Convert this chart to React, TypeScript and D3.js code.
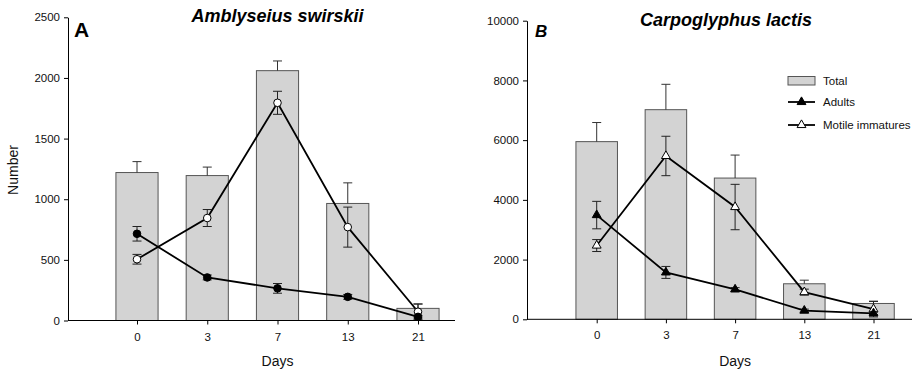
import React, { useEffect, useRef } from "react";
import * as d3 from "d3";

const days = ["0", "3", "7", "13", "21"];

// Panel A: Amblyseius swirskii
const aTotal = [1220, 1195, 2060, 965, 100];
const aTotalErr = [90, 70, 80, 170, 35];
const aImm = [505, 845, 1795, 770, 72];
const aImmErr = [40, 70, 95, 165, 65];
const aAdult = [715, 355, 265, 195, 30];
const aAdultErr = [60, 20, 40, 20, 10];
const aTicks = [0, 500, 1000, 1500, 2000, 2500];

// Panel B: Carpoglyphus lactis
const bTotal = [5950, 7020, 4730, 1190, 530];
const bTotalErr = [640, 850, 770, 120, 75];
const bImm = [2470, 5470, 3760, 910, 340];
const bImmErr = [200, 660, 760, 100, 260];
const bAdult = [3490, 1570, 1000, 290, 200];
const bAdultErr = [460, 200, 60, 50, 40];
const bTicks = [0, 2000, 4000, 6000, 8000, 10000];

const legendLabels = ["Total", "Adults", "Motile immatures"];

const FONT = "Liberation Sans, Arial, sans-serif";

type Panel = {
  x0: number; x4: number; axL: number; axR: number;
  yTop: number; yBot: number; yMax: number; ticks: number[];
  total: number[]; totalErr: number[]; imm: number[]; immErr: number[];
  adult: number[]; adultErr: number[]; marker: "circle" | "triangle";
};

export default function App() {
  const ref = useRef<SVGSVGElement>(null);
  useEffect(() => {
    const svg = d3.select(ref.current);
    svg.selectAll("*").remove();

    const draw = (p: Panel) => {
      const g = svg.append("g");
      const x = d3.scaleLinear().domain([0, 4]).range([p.x0, p.x4]);
      const step = (p.x4 - p.x0) / 4;
      const bw = step * 0.6;
      const y = d3.scaleLinear().domain([0, p.yMax]).range([p.yBot, p.yTop]);
      const idx = d3.range(days.length);

      // bars
      g.selectAll("rect.bar").data(idx).join("rect")
        .attr("x", (i) => x(i) - bw / 2).attr("y", (i) => y(p.total[i]))
        .attr("width", bw).attr("height", (i) => y(0) - y(p.total[i]))
        .attr("fill", "#d3d3d3").attr("stroke", "#555").attr("stroke-width", 1);
      // bar error (up only)
      idx.forEach((i) => {
        const cx = x(i);
        g.append("line").attr("x1", cx).attr("x2", cx)
          .attr("y1", y(p.total[i])).attr("y2", y(p.total[i] + p.totalErr[i]))
          .attr("stroke", "#333").attr("stroke-width", 1);
        g.append("line").attr("x1", cx - 4.5).attr("x2", cx + 4.5)
          .attr("y1", y(p.total[i] + p.totalErr[i])).attr("y2", y(p.total[i] + p.totalErr[i]))
          .attr("stroke", "#333").attr("stroke-width", 1);
      });

      const line = d3.line<number>().x((d, i) => x(i)).y((d) => y(d));
      const series = [
        { v: p.imm, e: p.immErr, fill: "#fff" },
        { v: p.adult, e: p.adultErr, fill: "#000" },
      ];
      series.forEach((s) => {
        idx.forEach((i) => {
          const cx = x(i);
          const lo = y(Math.max(0, s.v[i] - s.e[i]));
          const hi = y(s.v[i] + s.e[i]);
          g.append("line").attr("x1", cx).attr("x2", cx).attr("y1", lo).attr("y2", hi)
            .attr("stroke", "#222").attr("stroke-width", 1);
          [lo, hi].forEach((yy) =>
            g.append("line").attr("x1", cx - 4.5).attr("x2", cx + 4.5).attr("y1", yy).attr("y2", yy)
              .attr("stroke", "#222").attr("stroke-width", 1));
        });
      });
      series.forEach((s) => {
        g.append("path").datum(s.v).attr("d", line).attr("fill", "none")
          .attr("stroke", "#000").attr("stroke-width", 1.8);
      });
      series.forEach((s) => {
        if (p.marker === "circle") {
          g.selectAll(null).data(idx).join("circle")
            .attr("cx", (i) => x(i)).attr("cy", (i) => y(s.v[i])).attr("r", 3.8)
            .attr("fill", s.fill).attr("stroke", "#000").attr("stroke-width", 1);
        } else {
          const sym = d3.symbol().type(d3.symbolTriangle).size(34);
          g.selectAll(null).data(idx).join("path")
            .attr("d", sym() as string)
            .attr("transform", (i) => `translate(${x(i)},${y(s.v[i])})`)
            .attr("fill", s.fill).attr("stroke", "#000").attr("stroke-width", 1);
        }
      });

      // y axis
      const ya = d3.axisLeft(y).tickValues(p.ticks).tickFormat(d3.format("d"))
        .tickSize(4).tickSizeOuter(0).tickPadding(4);
      const yg = g.append("g").attr("transform", `translate(${p.axL},0)`).call(ya);
      yg.select(".domain").attr("stroke", "#000");
      yg.selectAll(".tick line").attr("stroke", "#000");
      yg.selectAll("text").attr("font-family", FONT).attr("font-size", 11.5).attr("fill", "#111");

      // x axis
      const xa = d3.axisBottom(x).tickValues(idx).tickFormat((i) => days[i as number])
        .tickSize(4).tickSizeOuter(0).tickPadding(8);
      const xg = g.append("g").attr("transform", `translate(0,${p.yBot})`).call(xa);
      xg.select(".domain").remove();
      xg.selectAll(".tick line").attr("stroke", "#000");
      xg.selectAll("text").attr("font-family", FONT).attr("font-size", 11.5).attr("fill", "#111");
      g.append("line").attr("x1", p.axL).attr("x2", p.axR).attr("y1", p.yBot).attr("y2", p.yBot)
        .attr("stroke", "#000").attr("stroke-width", 1);

      g.append("text").attr("x", x(2)).attr("y", 366).attr("text-anchor", "middle")
        .attr("font-family", FONT).attr("font-size", 14).attr("fill", "#111").text("Days");
      return { x, y };
    };

    draw({
      x0: 137, x4: 418, axL: 68, axR: 455, yTop: 17.3, yBot: 320.5, yMax: 2500, ticks: aTicks,
      total: aTotal, totalErr: aTotalErr, imm: aImm, immErr: aImmErr, adult: aAdult, adultErr: aAdultErr,
      marker: "circle",
    });
    draw({
      x0: 596.7, x4: 873.5, axL: 527, axR: 912, yTop: 20.7, yBot: 319.3, yMax: 10000, ticks: bTicks,
      total: bTotal, totalErr: bTotalErr, imm: bImm, immErr: bImmErr, adult: bAdult, adultErr: bAdultErr,
      marker: "triangle",
    });

    // texts
    svg.append("text").attr("transform", "translate(18,170) rotate(-90)").attr("text-anchor", "middle")
      .attr("font-family", FONT).attr("font-size", 14).attr("fill", "#111").text("Number");
    svg.append("text").attr("x", 277.5).attr("y", 22).attr("text-anchor", "middle")
      .attr("font-family", FONT).attr("font-size", 18).attr("font-weight", "bold").attr("font-style", "italic")
      .text("Amblyseius swirskii");
    svg.append("text").attr("x", 726).attr("y", 26).attr("text-anchor", "middle")
      .attr("font-family", FONT).attr("font-size", 18).attr("font-weight", "bold").attr("font-style", "italic")
      .text("Carpoglyphus lactis");
    svg.append("text").attr("x", 74).attr("y", 37).attr("font-family", FONT).attr("font-size", 21)
      .attr("font-weight", "bold").text("A");
    svg.append("text").attr("x", 535).attr("y", 37).attr("font-family", FONT).attr("font-size", 17)
      .attr("font-weight", "bold").attr("font-style", "italic").text("B");

    // legend
    const lg = svg.append("g");
    lg.append("rect").attr("x", 788).attr("y", 76.5).attr("width", 27).attr("height", 8.5)
      .attr("fill", "#d3d3d3").attr("stroke", "#555");
    const rows = [81, 102, 125];
    [1, 2].forEach((k) => {
      lg.append("line").attr("x1", 788).attr("x2", 815).attr("y1", rows[k]).attr("y2", rows[k])
        .attr("stroke", "#000").attr("stroke-width", 1.8);
      lg.append("path").attr("d", d3.symbol().type(d3.symbolTriangle).size(34)() as string)
        .attr("transform", `translate(801.5,${rows[k]})`)
        .attr("fill", k === 1 ? "#000" : "#fff").attr("stroke", "#000");
    });
    legendLabels.forEach((t, k) => {
      lg.append("text").attr("x", 823).attr("y", rows[k] + 4).attr("font-family", FONT)
        .attr("font-size", 11.5).attr("fill", "#111").text(t);
    });
  }, []);

  return (
    <svg ref={ref} width={917} height={373}
      style={{ position: "absolute", left: 0, top: 0, background: "#fff" }} />
  );
}
